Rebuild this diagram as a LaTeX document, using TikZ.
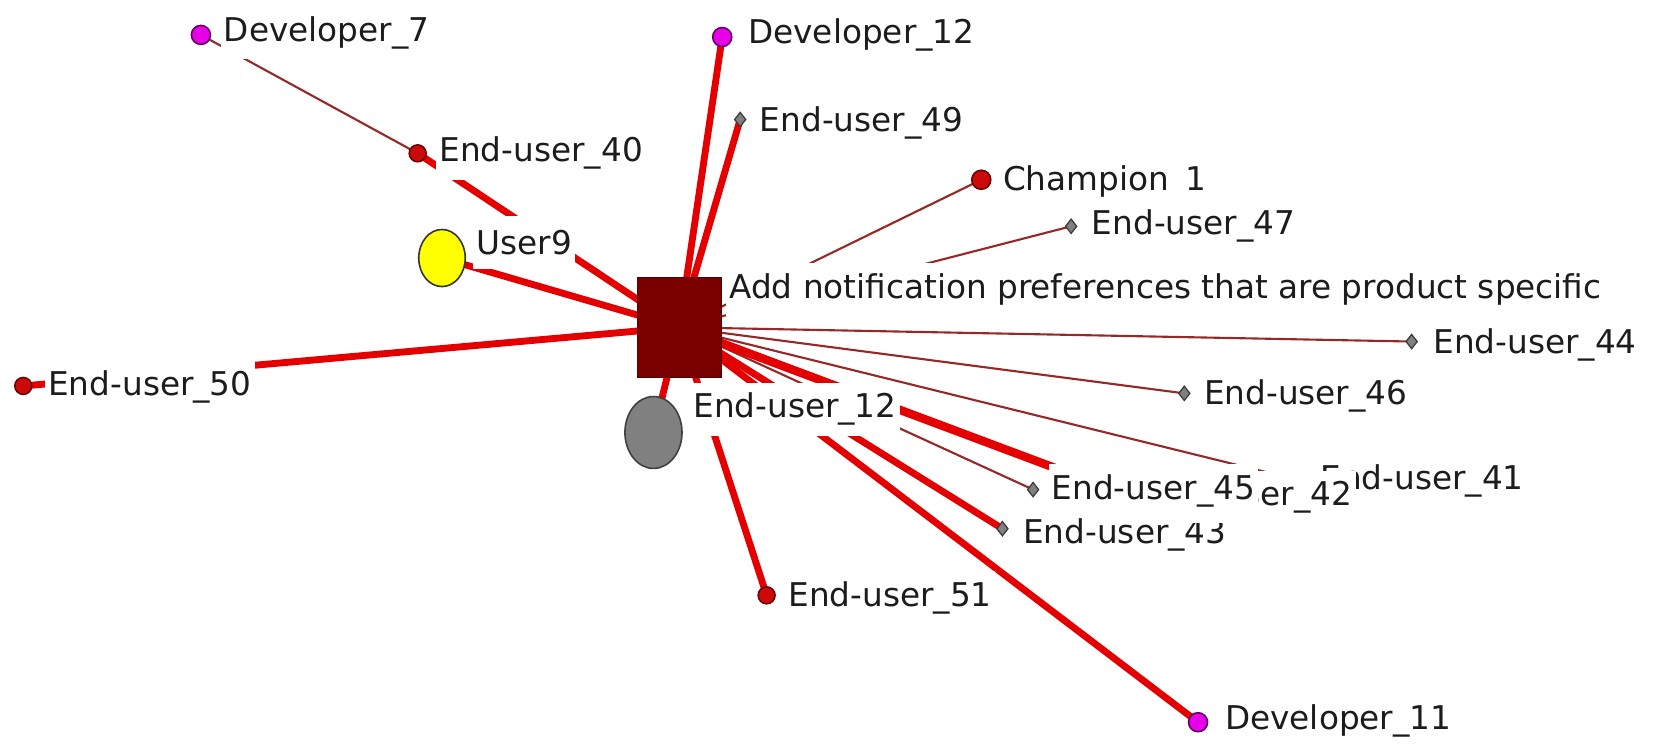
\documentclass[tikz,border=0pt]{standalone}
\usepackage{fontspec}
\usetikzlibrary{shapes.geometric}
\newfontfamily\labelfont{DejaVu Sans}
\definecolor{tiethick}{RGB}{228,0,0}
\definecolor{tiethin}{RGB}{150,40,40}
\definecolor{hubfill}{RGB}{122,0,0}
\definecolor{hubedge}{RGB}{80,0,0}
\definecolor{devfill}{RGB}{232,0,232}
\definecolor{devedge}{RGB}{100,0,100}
\definecolor{redfill}{RGB}{205,10,10}
\definecolor{rededge}{RGB}{110,0,0}
\definecolor{nodegray}{RGB}{128,128,128}
\definecolor{grayedge}{RGB}{60,60,60}
\definecolor{usery}{RGB}{255,255,0}
\definecolor{labeltext}{RGB}{28,28,28}
\pgfdeclarelayer{ties}
\pgfsetlayers{ties,main}
\begin{document}
\begin{tikzpicture}[x=0.1mm,y=-0.1mm,
  lab/.style={anchor=west, fill=white, inner xsep=0.3mm, inner ysep=0pt,
    minimum height=5.0mm, text=labeltext,
    font=\labelfont\fontsize{8.8}{10}\selectfont},
  devnode/.style={circle, fill=devfill, draw=devedge, line width=0.15mm,
    minimum size=1.8mm, inner sep=0pt},
  rednode/.style={circle, fill=redfill, draw=rededge, line width=0.15mm,
    minimum size=1.6mm, inner sep=0pt},
  graynode/.style={diamond, fill=nodegray, draw=grayedge, line width=0.12mm,
    minimum width=1.1mm, minimum height=1.4mm, inner sep=0pt},
  hubnode/.style={rectangle, fill=hubfill, draw=hubedge, line width=0.1mm,
    minimum width=7.9mm, minimum height=9.5mm, inner sep=0pt},
  strongtie/.style={draw=tiethick, line width=0.65mm},
  weaktie/.style={draw=tiethin, line width=0.2mm}]
\useasboundingbox (0,0) rectangle (1568,703);

% central item
\node[hubnode] (hub) at (642.5,309.5) {};
\node[lab] (hubl) at (686,274) {Add notification preferences that are product specific};

% actors, each with its label
\node[devnode] (d7) at (190,33) {};
\node[lab] (d7l) at (208,31) {Developer\_7};
\node[devnode] (d12) at (683,35) {};
\node[lab] (d12l) at (704,33) {Developer\_12};
\node[graynode] (e49) at (700,113) {};
\node[lab] (e49l) at (715,116) {End-user\_49};
\node[rednode] (e40) at (395,145) {};
\node[lab] (e40l) at (412,145) {End-user\_40};
\node[rednode, minimum size=1.8mm] (c1) at (928,170) {};
\node[lab] (c1l) at (945,172) {Champion\phantom{\_}1};
\node[graynode] (e47) at (1013,214) {};
\node[lab] (e47l) at (1029,214) {End-user\_47};
\node[ellipse, fill=usery, draw=black!80, line width=0.15mm,
  minimum width=4.4mm, minimum height=5.4mm, inner sep=0pt] (u9) at (418,244) {};
\node[lab] (u9l) at (447,229) {User9};
\node[graynode] (e44) at (1335,323) {};
\node[lab] (e44l) at (1352,326) {End-user\_44};
\node[rednode] (e50) at (22,365) {};
\node[lab] (e50l) at (42,366) {End-user\_50};
\node[graynode] (e46) at (1120,372) {};
\node[lab] (e46l) at (1135,374) {End-user\_46};
\node[ellipse, fill=nodegray, draw=black!75, line width=0.15mm,
  minimum width=5.4mm, minimum height=6.8mm, inner sep=0pt] (e12) at (618,409) {};
\node[lab] (e12l) at (652,387) {End-user\_12};
\node[graynode] (e43) at (948,500) {};
\node[lab] (e43l) at (964,506) {End-user\_43};
\node[graynode] (e41) at (1232,455) {};
\node[lab] (e41l) at (1245,455) {End-user\_41};
\node[graynode] (e42) at (1071,470) {};
\node[lab] (e42l) at (1083,470) {End-user\_42};
\node[graynode] (e45) at (977,463) {};
\node[lab] (e45l) at (991,464) {End-user\_45};
\node[rednode] (e51) at (725,563) {};
\node[lab] (e51l) at (742,565) {End-user\_51};
\node[devnode] (d11) at (1133,683) {};
\node[lab] (d11l) at (1155,682) {Developer\_11};

% ties, kept beneath nodes and labels
\begin{pgfonlayer}{ties}
  \draw[weaktie] (d7.center) -- (e40.center);
  \foreach \v in {c1,e47,e44,e46,e41,e45}
    \draw[weaktie] (hub.center) -- (\v.center);
  \foreach \v in {d12,e49,e40,u9,e50,e12,e51,e43,d11}
    \draw[strongtie] (hub.center) -- (\v.center);
  \draw[strongtie, line width=0.8mm] (hub.center) -- (e42.center);
\end{pgfonlayer}
\end{tikzpicture}
\end{document}
